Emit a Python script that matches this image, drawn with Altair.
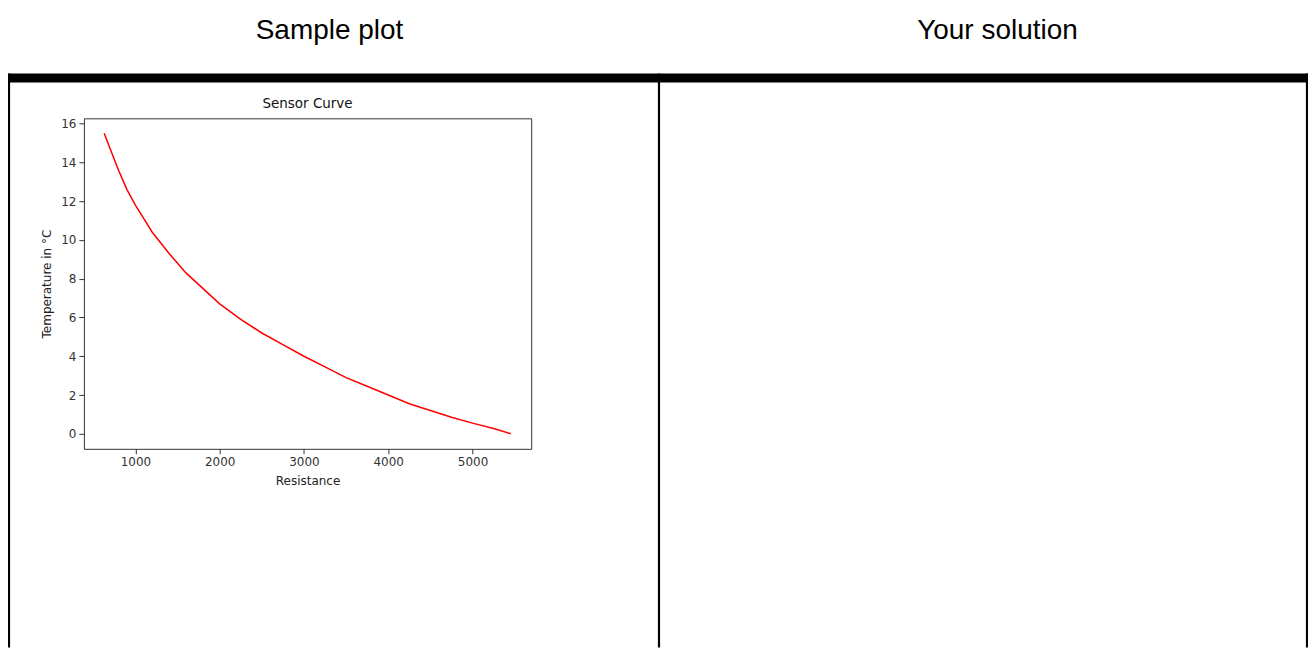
import altair as alt
import pandas as pd

# Data
resistance = [630, 700, 800, 900, 1000, 1100, 1200, 1400, 1600, 1800, 2000, 2250, 2500,
              2750, 3000, 3250, 3500, 3750, 4000, 4250, 4500, 4750, 5000, 5250, 5455]
temperature = [15.5, 14.7, 13.6, 12.6, 11.8, 11.1, 10.4, 9.3, 8.3, 7.5, 6.7, 5.9, 5.2,
               4.6, 4.0, 3.45, 2.9, 2.45, 2.0, 1.55, 1.2, 0.85, 0.55, 0.27, 0.0]
x_ticks = [1000, 2000, 3000, 4000, 5000]
y_ticks = [0, 2, 4, 6, 8, 10, 12, 14, 16]
headers = ["Sample plot", "Your solution"]
plot_title = "Sensor Curve"

df = pd.DataFrame({"Resistance": resistance, "Temperature": temperature})

W, H = 448, 331
PAD_L, PAD_T = 76, 110
SVG_W, SVG_H = 1302, 640

x_pad = (max(resistance) - min(resistance)) * 0.05
y_pad = (max(temperature) - min(temperature)) * 0.05

line = alt.Chart(df).mark_line(color="#ff0000", strokeWidth=1.5).encode(
    x=alt.X("Resistance:Q",
            scale=alt.Scale(domain=[min(resistance) - x_pad, max(resistance) + x_pad], nice=False, zero=False),
            axis=alt.Axis(values=x_ticks, title="Resistance", grid=False, domain=False,
                          tickSize=5, labelPadding=3, titlePadding=8, format="d")),
    y=alt.Y("Temperature:Q",
            scale=alt.Scale(domain=[min(temperature) - y_pad, max(temperature) + y_pad], nice=False, zero=False),
            axis=alt.Axis(values=y_ticks, title="Temperature in °C", grid=False, domain=False,
                          tickSize=5, labelPadding=3, titlePadding=7)),
)

one = pd.DataFrame({"a": [0]})

band = alt.Chart(one).mark_rule(color="black", strokeWidth=9, strokeCap="butt").encode(
    x=alt.value(-PAD_L), x2=alt.value(SVG_W - PAD_L), y=alt.value(-40.5))

def vrule(xpos):
    return alt.Chart(one).mark_rule(color="black", strokeWidth=2.2, strokeCap="butt").encode(
        x=alt.value(xpos), y=alt.value(-45), y2=alt.value(SVG_H - PAD_T))

def header(txt, xpos):
    return alt.Chart(one).mark_text(font="Liberation Sans", fontSize=28, color="black",
                                    align="center", baseline="alphabetic").encode(
        x=alt.value(xpos), y=alt.value(-79), text=alt.value(txt))

title_mark = alt.Chart(one).mark_text(font="DejaVu Sans", fontSize=13.5, color="#111",
                                      align="center", baseline="alphabetic").encode(
    x=alt.value(W / 2), y=alt.value(-10), text=alt.value(plot_title))

chart = alt.layer(
    line, band, vrule(-75), vrule(576), vrule(1225),
    header(headers[0], 246), header(headers[1], 915), title_mark
).properties(
    width=W, height=H,
    autosize=alt.AutoSizeParams(type="none"),
    padding={"left": PAD_L, "top": PAD_T, "right": SVG_W - PAD_L - W, "bottom": SVG_H - PAD_T - H},
    background="white",
).configure_view(
    stroke="#333", strokeWidth=1
).configure_axis(
    labelFont="DejaVu Sans", labelFontSize=12, labelColor="#333",
    titleFont="DejaVu Sans", titleFontSize=12, titleFontWeight="normal", titleColor="#222",
    tickColor="#333"
)

chart.save("out.html", embed_options={"renderer": "svg", "actions": False})
